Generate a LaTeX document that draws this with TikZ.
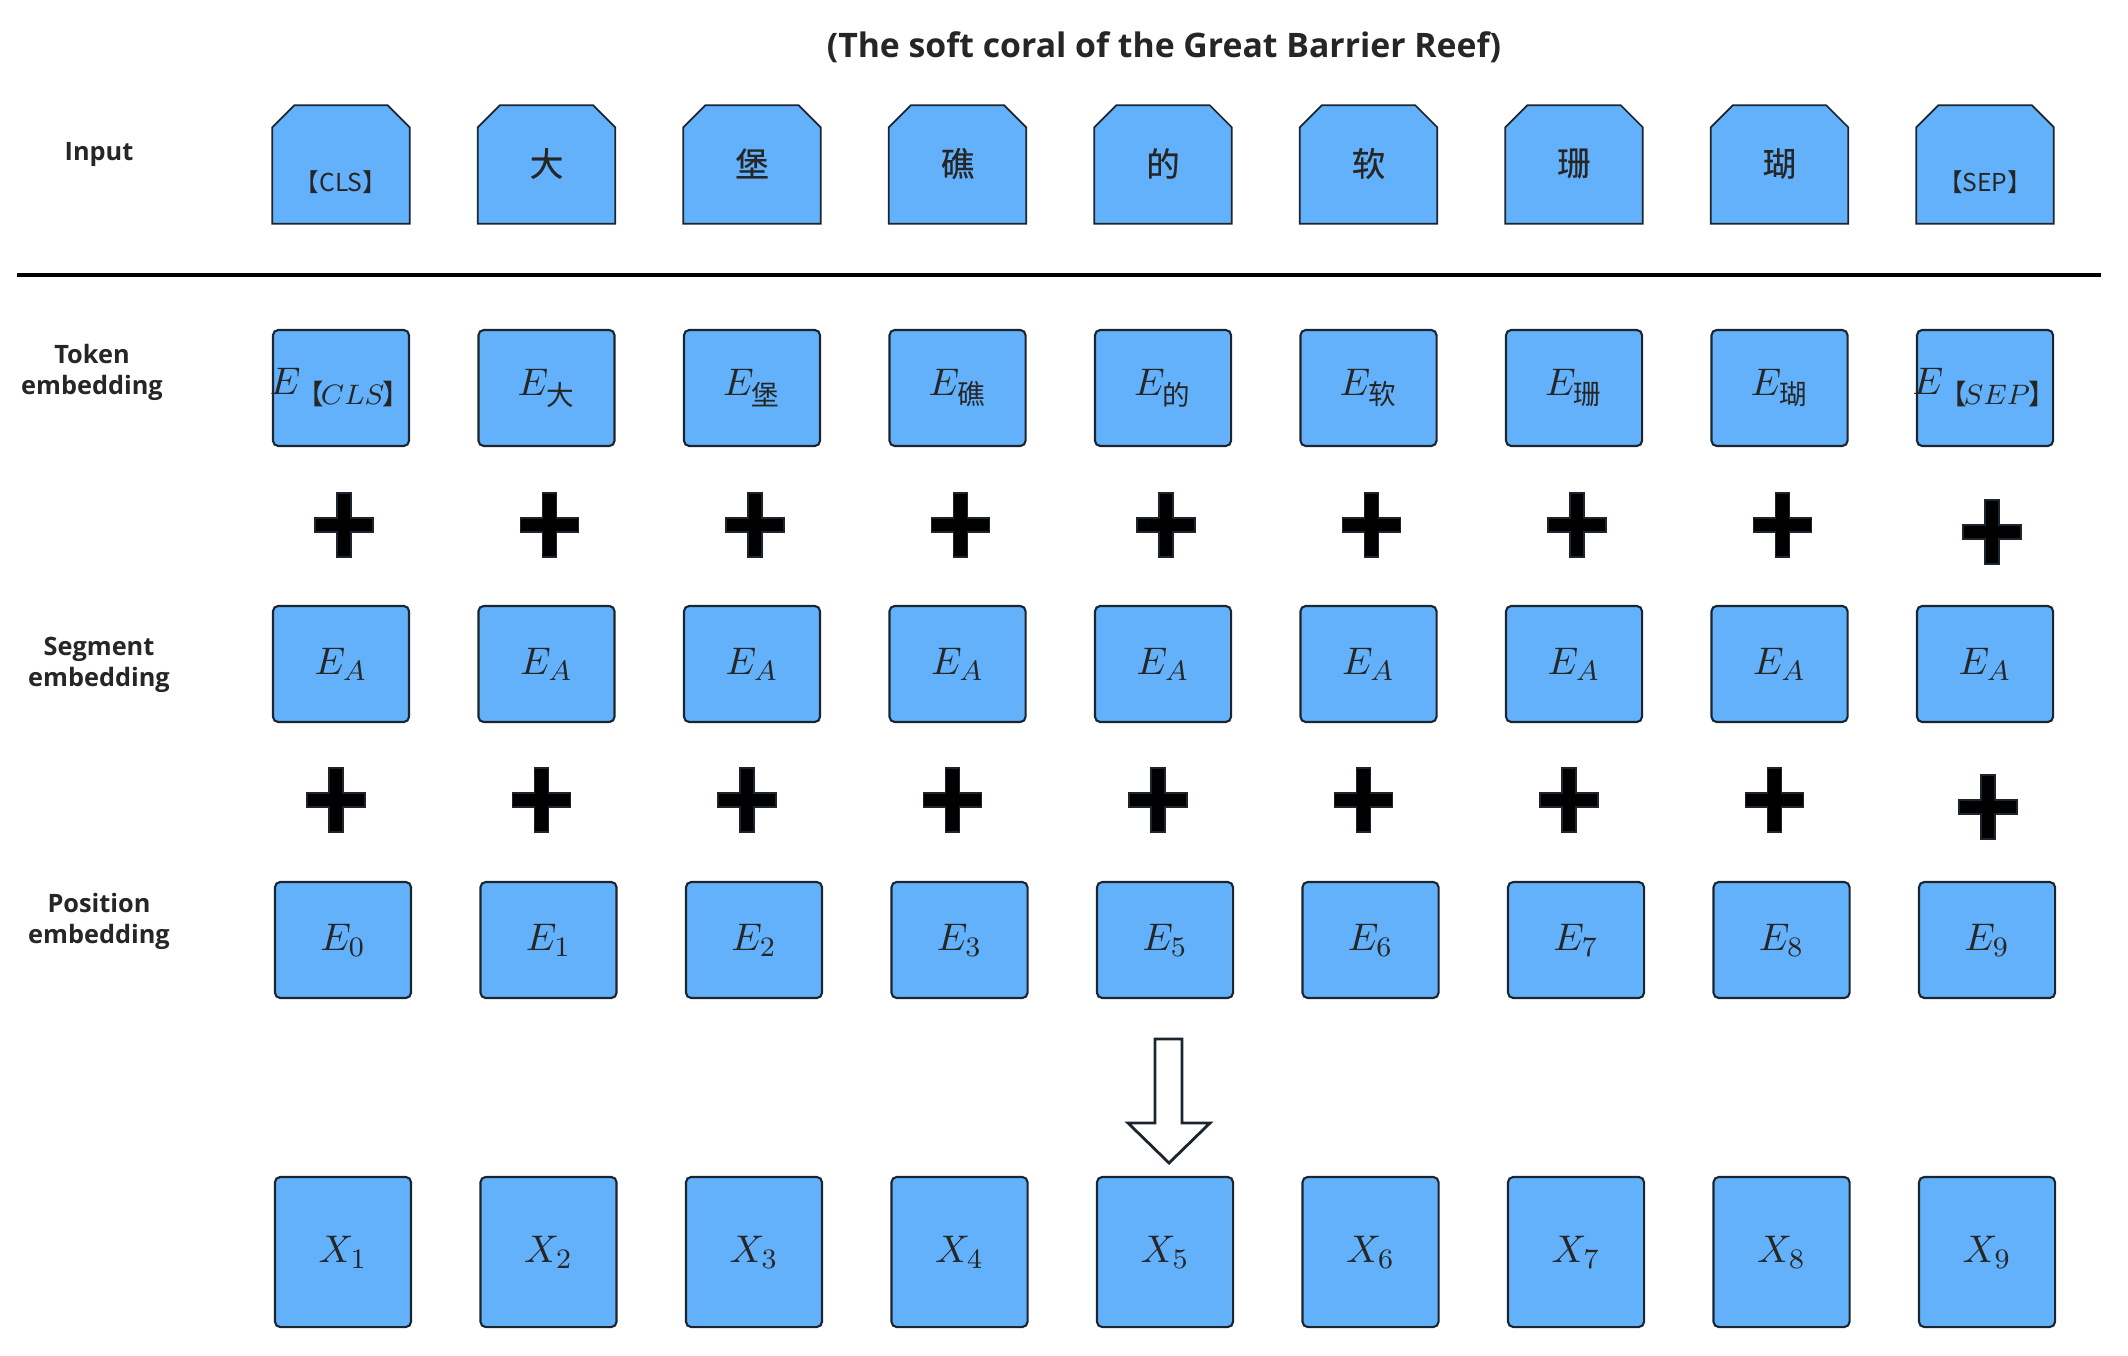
\documentclass[tikz,border=0pt]{standalone}
\usepackage{amsmath}
\usepackage{fontspec}
\setsansfont{Open Sans}
\newfontfamily\cjk{Noto Sans CJK SC}
\newfontfamily\cjkin[FakeBold=0.6]{Noto Sans CJK SC}
\usetikzlibrary{positioning, calc}
\definecolor{BoxBlue}{RGB}{99,177,250}
\definecolor{EdgeDark}{RGB}{28,36,46}
\definecolor{TextDark}{RGB}{38,38,38}
\newcommand{\subcjk}[1]{\text{\cjk #1}}
\newcommand{\tagtxt}[1]{{\cjk\fontsize{7}{8}\selectfont #1}}
\newcommand{\tagsub}[1]{\mkern-1mu\subcjk{【}\mkern-2mu #1\mkern-1mu\subcjk{】}}

\begin{document}
\begin{tikzpicture}[x=0.01cm,y=-0.01cm,
    tokbox/.style={draw=EdgeDark,fill=BoxBlue,line width=0.6pt,rounded corners=1.5pt,
                   minimum width=1.36cm,minimum height=1.16cm,inner sep=0pt,
                   text=TextDark,font=\fontsize{11.2}{13}\selectfont},
    outbox/.style={tokbox,minimum height=1.5cm},
    inshape/.style={minimum width=1.36cm,minimum height=1.17cm,inner sep=0pt},
    inedge/.style={draw=EdgeDark,fill=BoxBlue,line width=0.5pt},
    intext/.style={inner sep=0pt,text=TextDark,font=\cjkin\fontsize{9.5}{11}\selectfont},
    rowlbl/.style={align=center,text=TextDark,
                   font=\sffamily\bfseries\fontsize{7.2}{8.8}\selectfont},
    titletext/.style={text=TextDark,font=\sffamily\bfseries\fontsize{9.6}{11}\selectfont},
    sepline/.style={draw=black,line width=1.1pt},
    plusfill/.style={fill=black,draw=EdgeDark,line width=0.4pt},
    hollowarr/.style={draw=EdgeDark,fill=white,line width=0.8pt,line join=miter},
    plussign/.pic={\filldraw[plusfill] (-7,-32) -- (7,-32) -- (7,-7) -- (29,-7) -- (29,7)
                   -- (7,7) -- (7,32) -- (-7,32) -- (-7,7) -- (-29,7) -- (-29,-7) -- (-7,-7) -- cycle;}
  ]
  \useasboundingbox (0,0) rectangle (2128,1355);

  % title and row labels
  \node[titletext] (title) at (1164,47) {(The soft coral of the Great Barrier Reef)};
  \node[rowlbl] (lin)  at (99,155) {Input};
  \node[rowlbl] (ltok) at (92,372) {Token\\embedding};
  \node[rowlbl] (lseg) at (99,665) {Segment\\embedding};
  \node[rowlbl] (lpos) at (99,921) {Position\\embedding};

  \coordinate (sepL) at (17,275);
  \coordinate (sepR) at (2101,275);
  \draw[sepline] (sepL) -- (sepR);

  % input tokens
  \foreach \txt/\dy [count=\i from 0] in {\tagtxt{【CLS】}/-0.18, 大/0.01, 堡/0.01, 礁/0.01,
      的/0.01, 软/0.01, 珊/0.01, 瑚/0.01, \tagtxt{【SEP】}/-0.18}{
    \node[inshape] (in\i) at (341+205.5*\i,164.5) {};
    \draw[inedge] (in\i.south west) -- ([yshift=-0.22cm]in\i.north west)
      -- ([xshift=0.22cm]in\i.north west) -- ([xshift=-0.22cm]in\i.north east)
      -- ([yshift=-0.22cm]in\i.north east) -- (in\i.south east) -- cycle;
    \node[intext] (it\i) at ([yshift=\dy cm]in\i.center) {\txt};
  }

  % embeddings
  \foreach \sub [count=\i from 0] in {\tagsub{CLS}, \subcjk{大}, \subcjk{堡},
      \subcjk{礁}, \subcjk{的}, \subcjk{软}, \subcjk{珊}, \subcjk{瑚}, \tagsub{SEP}}
    \node[tokbox] (tok\i) at (341+205.5*\i,388) {\makebox[0pt]{$E_{\sub}$}};
  \foreach \i in {0,...,8}
    \node[tokbox] (seg\i) at (341+205.5*\i,664) {$E_A$};
  \foreach \n [count=\i from 0] in {0,1,2,3,5,6,7,8,9}
    \node[tokbox] (pos\i) at (343+205.5*\i,940) {$E_{\n}$};

  % plus signs
  \foreach \i in {0,...,7}{
    \pic at (344+205.5*\i,525) {plussign};
    \pic at (336+205.5*\i,800) {plussign};
  }
  \pic at (1992,532) {plussign};
  \pic at (1988,807) {plussign};

  % sum arrow and outputs
  \draw[hollowarr] (1155,1039) -- (1182,1039) -- (1182,1123) -- (1210,1123)
    -- (1169,1163) -- (1128,1123) -- (1155,1123) -- cycle;
  \foreach \i in {1,...,9}
    \node[outbox] (x\i) at (343+205.5*\i-205.5,1252) {$X_{\i}$};
\end{tikzpicture}
\end{document}
